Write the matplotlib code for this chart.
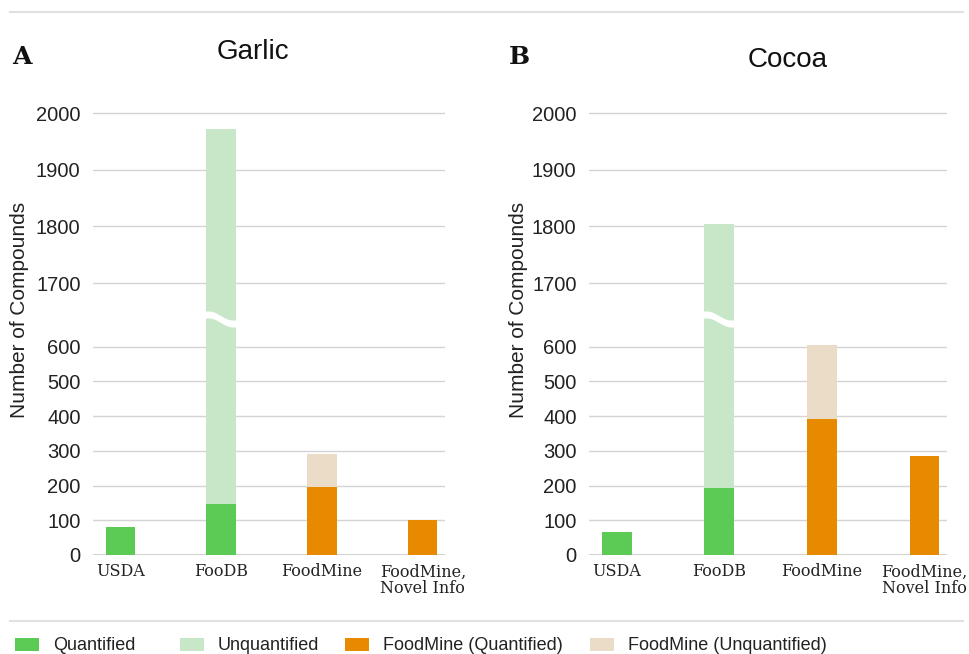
import numpy as np
import matplotlib.pyplot as plt
from matplotlib.patches import Rectangle, Polygon
from matplotlib.lines import Line2D
from matplotlib.transforms import blended_transform_factory

plt.rcParams['font.family'] = ['Liberation Sans', 'DejaVu Sans']

sources = ["USDA", "FooDB", "FoodMine", "FoodMine,\nNovel Info"]
garlic_quant = [80, 148, 197, 100]
garlic_total = [80, 1972, 292, 100]
cocoa_quant = [67, 194, 393, 286]
cocoa_total = [67, 1805, 604, 286]
yticks = [0, 100, 200, 300, 400, 500, 600, 1700, 1800, 1900, 2000]

green = "#5ccb56"
light_green = "#c8e6c8"
orange = "#e88a00"
beige = "#ebdcc8"
quant_colors = [green, green, orange, orange]
unquant_colors = [light_green, light_green, beige, beige]
grid_c = "#d4d4d4"

# broken axis: 0-677 lower part, 1635+ upper part (values in pixels)
lo_cut, hi_cut = 677, 1635
xp = [0, lo_cut, hi_cut, 2200]
fp = [0, 235, 235.01, 235.01 + 0.567 * (2200 - hi_cut)]


def fwd(v):
    return np.interp(v, xp, fp)


def inv(v):
    return np.interp(v, fp, xp)


W, H = 969, 654
fig = plt.figure(figsize=(W / 100, H / 100), dpi=100)


def draw_panel(left, right, quant, total, title, title_y, letter, letter_x, ylab_x, title_x):
    ax = fig.add_axes([left / W, 1 - 555 / H, (right - left) / W, (555 - 96) / H])
    ax.set_yscale('function', functions=(fwd, inv))
    x = np.arange(len(sources))
    unq = [t - q for t, q in zip(total, quant)]
    ax.bar(x, quant, width=0.29, color=quant_colors, zorder=2)
    ax.bar(x, unq, bottom=quant, width=0.29, color=unquant_colors, zorder=2)
    ax.set_ylim(0, 2030)
    ax.set_xlim(-0.27, 3.22)
    ax.set_yticks(yticks)
    ax.set_yticklabels([str(t) for t in yticks], fontsize=14.5, color="#222222")
    ax.set_xticks(x)
    ax.set_xticklabels(sources, family='DejaVu Serif', fontsize=11.5,
                       linespacing=0.95, color="#222222")
    ax.tick_params(length=0)
    ax.tick_params(axis='y', pad=9)
    ax.tick_params(axis='x', pad=6)
    ax.grid(axis='y', color=grid_c, linewidth=1, zorder=0)
    for s in ax.spines.values():
        s.set_visible(False)
    ax.axhline(0, color="#c8c8c8", linewidth=1.2, zorder=1)

    # white S-shaped break across the FooDB bar
    trans = blended_transform_factory(ax.transData, ax.transAxes)
    hgt = 555 - 96
    yb = (555 - 319.5) / hgt
    t = np.linspace(0, 1, 50)
    xs = 1 - 0.17 + t * 0.34
    u = np.clip((t - 0.15) / 0.7, 0, 1)
    wave = 4.5 * np.cos(np.pi * u) / hgt
    top = yb + wave + 3.5 / hgt
    bot = yb + wave - 3.5 / hgt
    pts = np.column_stack([np.r_[xs, xs[::-1]], np.r_[top, bot[::-1]]])
    ax.add_patch(Polygon(pts, closed=True, facecolor="white", edgecolor="none",
                         transform=trans, zorder=3))

    fig.text(ylab_x / W, 1 - 310 / H, "Number of Compounds", rotation=90,
             ha='center', va='center', fontsize=15, color="#222222")
    fig.text(title_x / W, 1 - title_y / H, title, ha='center', va='center',
             fontsize=20, color="#111111")
    fig.text(letter_x / W, 1 - 57 / H, letter, ha='left', va='center',
             family='DejaVu Serif', fontweight='bold', fontsize=18, color="#111111")
    return ax


draw_panel(93, 445, garlic_quant, garlic_total, "Garlic", 52, "A", 12, 20, 253)
draw_panel(589, 947, cocoa_quant, cocoa_total, "Cocoa", 60, "B", 509, 518, 788)

# separator lines
fig.add_artist(Line2D([10 / W, 963 / W], [1 - 12 / H, 1 - 12 / H], color="#e0e0e0", lw=1.5))
fig.add_artist(Line2D([10 / W, 963 / W], [1 - 621 / H, 1 - 621 / H], color="#e0e0e0", lw=1.5))

# legend
legend_items = [("Quantified", green, 15), ("Unquantified", light_green, 180),
                ("FoodMine (Quantified)", orange, 345), ("FoodMine (Unquantified)", beige, 590)]
for label, col, px in legend_items:
    fig.add_artist(Rectangle((px / W, 1 - 651 / H), 24 / W, 13 / H, facecolor=col,
                             edgecolor='none', transform=fig.transFigure))
    fig.text((px + 38) / W, 1 - 645 / H, label, ha='left', va='center',
             fontsize=13, color="#222222")

fig.savefig("out.png", dpi=100)
